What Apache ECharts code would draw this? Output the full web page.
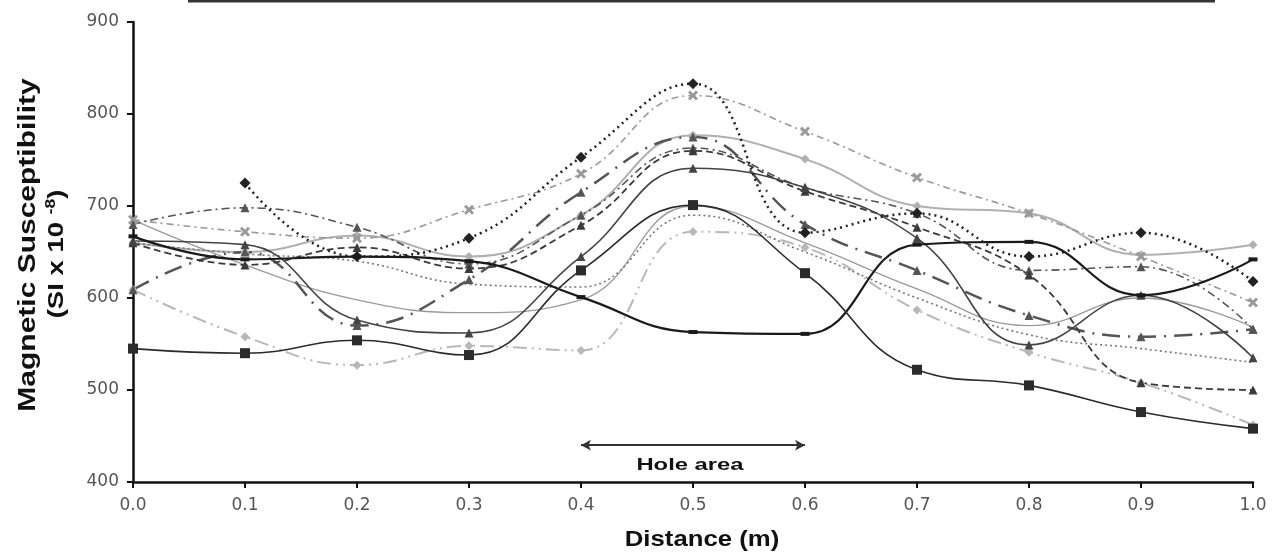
<!DOCTYPE html>
<html>
<head>
<meta charset="utf-8">
<script src="https://cdn.jsdelivr.net/npm/echarts@6/dist/echarts.min.js"></script>
<style>
  html, body { margin: 0; padding: 0; background: #fff; }
  #chart { width: 1274px; height: 559px; }
</style>
</head>
<body>
<div id="chart"></div>
<script>
// distance along the profile (m)
const distance = [0.0, 0.1, 0.2, 0.3, 0.4, 0.5, 0.6, 0.7, 0.8, 0.9, 1.0]
const yTicks = [400, 500, 600, 700, 800, 900]

// magnetic susceptibility readings, one array per profile
const sqBlack = [545, 540, 554, 538, 630, 701, 627, 522, 505, 476, 458]
const thickBlack = [667, 642, 645, 640, 601, 563, 561, 658, 661, 603, 642]
const darkTri = [662, 658, 576, 562, 645, 741, 720, 665, 549, 603, 535]
const dotDiamond = [null, 725, 645, 665, 753, 833, 671, 692, 645, 671, 618]
const grayCross = [685, 672, 665, 696, 735, 820, 781, 731, 692, 645, 595]
const dashDotTri = [680, 698, 677, 637, 690, 763, 720, 692, 630, 634, 566]
const longDash = [609, 650, 570, 620, 715, 775, 680, 630, 581, 558, 566]
const dashedTri = [660, 636, 655, 632, 679, 760, 716, 677, 625, 508, 500]
const lightDashDot = [609, 558, 527, 548, 543, 672, 655, 587, 541, 508, 462]
const lightSolid = [660, 650, 668, 645, 690, 777, 751, 700, 692, 647, 658]
const graySolid = [685, 636, 598, 584, 598, 700, 660, 610, 570, 600, 568]
const grayDotted = [660, 648, 640, 615, 612, 690, 650, 600, 560, 545, 530]

const crossPath = 'path://M2,0L5,3L8,0L10,2L7,5L10,8L8,10L5,7L2,10L0,8L3,5L0,2Z'

function pts(arr) {
  return distance.map((d, i) => [d, arr[i]]).filter(p => p[1] !== null)
}

function line(name, arr, color, width, type, symbol, size, z) {
  return {
    name: name,
    type: 'line',
    data: pts(arr),
    smooth: 0.45,
    symbol: symbol,
    symbolSize: size,
    showSymbol: symbol !== 'none',
    lineStyle: { color: color, width: width, type: type },
    itemStyle: { color: color },
    z: z || 2,
    animation: false,
  }
}

const chart = echarts.init(document.getElementById('chart'))

const series = [
  line('lightDashDot', lightDashDot, '#b8b8b8', 2, [14, 5, 2, 5, 2, 5], 'diamond', 9),
  line('lightSolid', lightSolid, '#b0b0b0', 2, 'solid', 'diamond', 9),
  line('graySolid', graySolid, '#9a9a9a', 1.3, 'solid', 'none', 0),
  line('grayDotted', grayDotted, '#777', 1.6, [2, 3], 'none', 0),
  line('grayCross', grayCross, '#999', 1.6, [7, 4, 2, 4], crossPath, 10),
  line('dashDotTri', dashDotTri, '#555', 1.6, [8, 4, 2, 4], 'triangle', 9),
  line('longDash', longDash, '#555', 2.5, [18, 8, 2, 8], 'triangle', 9),
  line('dashedTri', dashedTri, '#3a3a3a', 1.8, [7, 4], 'triangle', 9),
  line('darkTri', darkTri, '#444', 1.6, 'solid', 'triangle', 9),
  line('dotDiamond', dotDiamond, '#222', 2.5, [2, 4], 'diamond', 11, 3),
  line('thickBlack', thickBlack, '#1a1a1a', 2.2, 'solid', 'rect', [9, 4], 3),
  line('sqBlack', sqBlack, '#2b2b2b', 1.6, 'solid', 'rect', 10, 3),
]

// hole area double arrow, placed in data space
series.push({
  type: 'line',
  data: [],
  silent: true,
  markLine: {
    silent: true,
    symbol: ['arrow', 'arrow'],
    symbolSize: [8, 10],
    animation: false,
    lineStyle: { color: '#333', width: 2, type: 'solid' },
    label: { show: false },
    data: [[{ coord: [0.4, 440] }, { coord: [0.6, 440] }]],
  },
})

const boldText = { fontFamily: 'Liberation Sans', fontWeight: 'bold', fill: '#111', textAlign: 'center', textVerticalAlign: 'middle' }

chart.setOption({
  backgroundColor: '#fff',
  grid: { left: 133, right: 21, top: 22, bottom: 77 },
  xAxis: {
    type: 'value',
    min: 0,
    max: 1,
    interval: 0.1,
    axisLine: { lineStyle: { color: '#111', width: 2.5 } },
    axisTick: { show: true, length: 6, lineStyle: { color: '#111', width: 2 } },
    axisLabel: {
      margin: 15,
      fontFamily: 'DejaVu Sans',
      fontSize: 17,
      color: '#555',
      formatter: v => v.toFixed(1),
    },
    splitLine: { show: false },
  },
  yAxis: {
    type: 'value',
    min: yTicks[0],
    max: yTicks[yTicks.length - 1],
    interval: 100,
    axisLine: { show: true, lineStyle: { color: '#111', width: 2.5 } },
    axisTick: { show: true, length: 6, lineStyle: { color: '#111', width: 2 } },
    axisLabel: { margin: 14, fontFamily: 'DejaVu Sans', fontSize: 17, color: '#555' },
    splitLine: { show: false },
  },
  graphic: [
    {
      type: 'line',
      shape: { x1: 188, y1: 1, x2: 1215, y2: 1 },
      style: { stroke: '#333', lineWidth: 3 },
    },
    {
      type: 'text',
      x: 28,
      y: 245,
      rotation: Math.PI / 2,
      scaleX: 1.25,
      style: Object.assign({ text: 'Magnetic Susceptibility', fontSize: 24 }, boldText),
    },
    {
      type: 'text',
      x: 57,
      y: 254,
      rotation: Math.PI / 2,
      scaleX: 1.25,
      style: Object.assign({
        text: '{a|(SI x 10 }{b|-8}{a|)}',
        rich: {
          a: { fontFamily: 'Liberation Sans', fontWeight: 'bold', fontSize: 22, fill: '#111' },
          b: { fontFamily: 'Liberation Sans', fontWeight: 'bold', fontSize: 14, fill: '#111', padding: [0, 0, 12, 0] },
        },
      }, boldText),
    },
    {
      type: 'text',
      x: 702,
      y: 540,
      scaleX: 1.17,
      style: Object.assign({ text: 'Distance (m)', fontSize: 22 }, boldText),
    },
    {
      type: 'text',
      x: 690,
      y: 465,
      scaleX: 1.4,
      style: Object.assign({ text: 'Hole area', fontSize: 17 }, boldText),
    },
  ],
  series: series,
})
</script>
</body>
</html>
